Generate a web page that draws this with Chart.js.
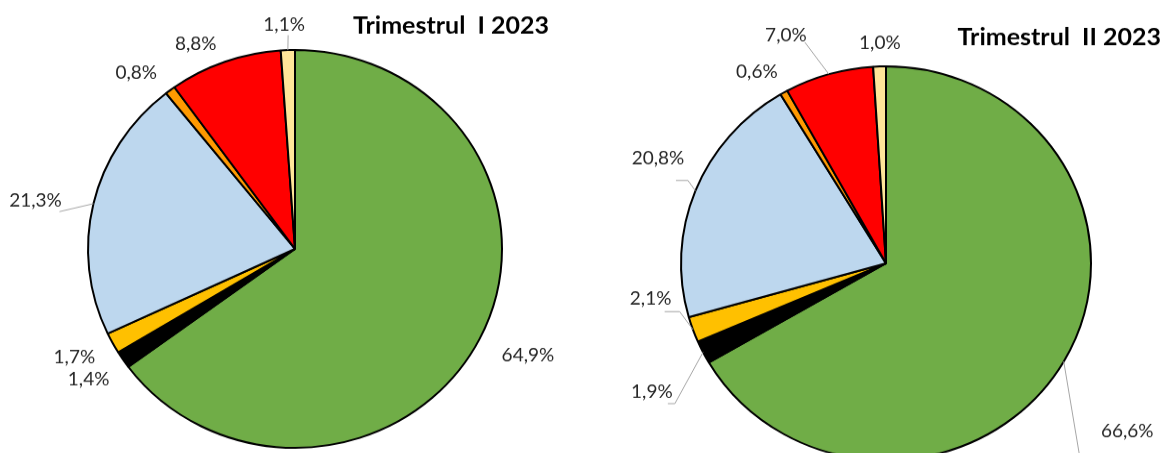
<!DOCTYPE html>
<html lang="ro">
<head>
<meta charset="utf-8">
<title>Trimestrul I / II 2023</title>
<script src="https://cdn.jsdelivr.net/npm/chart.js@4/dist/chart.umd.min.js"></script>
<style>
    html, body { margin: 0; padding: 0; background: #fff; }
    body { width: 1163px; height: 453px; overflow: hidden; position: relative; }
    /* the source pies are slightly flattened, so the canvases are squeezed vertically */
    .pie { position: absolute; top: 0; height: 500px; transform: scaleY(0.961); transform-origin: 0 0; }
    #pie-q1 { left: 0; width: 580px; }
    #pie-q2 { left: 580px; width: 583px; }
</style>
</head>
<body>
<div class="pie" id="pie-q1"><canvas id="chart-q1" width="580" height="500"></canvas></div>
<div class="pie" id="pie-q2"><canvas id="chart-q2" width="583" height="500"></canvas></div>

<script>
/* ============================================================
   Data (percent shares, clockwise from 12 o'clock)
   ============================================================ */
const titles = ['Trimestrul  I 2023', 'Trimestrul  II 2023'];
const sliceColors = ['#70AD47', '#000000', '#FFC000', '#BDD7EE', '#FF9900', '#FF0000', '#FFE699'];
const valuesQ1 = [64.9, 1.4, 1.7, 21.3, 0.8, 8.8, 1.1];
const valuesQ2 = [66.6, 1.9, 2.1, 20.8, 0.6, 7.0, 1.0];

const SQUASH = 0.961;

// label placement: distance past the rim, angular shift (deg), optional leader
const labelLayoutQ1 = [
    { gap: 49, shift: -2.3 },
    { gap: 37, shift: 1.6 },
    { gap: 39, shift: 2.0 },
    { gap: 57, shift: -2.6, leader: { ax: 24, ay: 11, hx: 0 } },
    { gap: 30, shift: -5.0 },
    { gap: 21, shift: -6.0 },
    { gap: 17, shift: -0.8, leader: { ax: 4, ay: 10, hx: 0 } }
];
const labelLayoutQ2 = [
    { gap: 89, shift: 5.0, leader: { ax: -48, ay: 22, hx: 0 } },
    { gap: 62, shift: -1.9, leader: { ax: 16, ay: 12, hx: 7 } },
    { gap: 33, shift: 11.1, leader: { ax: 14, ay: 13, hx: 15 } },
    { gap: 46, shift: 3.1, leader: { ax: 18, ay: 22, hx: 12 } },
    { gap: 26, shift: -4.1 },
    { gap: 44, shift: -7.5, leader: { ax: 19, ay: 7, hx: 0 } },
    { gap: 15, shift: 0.2 }
];

const LABEL_FONT = '19px Lato, "Open Sans", sans-serif';
const TITLE_FONT = 'bold 25px Lato, "Open Sans", sans-serif';

function fmtPct(v) {
    return v.toFixed(1).replace('.', ',') + '%';
}

// Draws the value labels, leader lines and the title
const pieLabels = {
    id: 'pieLabels',
    afterDatasetsDraw(chart, args, opts) {
        const ctx = chart.ctx;
        const meta = chart.getDatasetMeta(0);
        const values = chart.data.datasets[0].data;

        ctx.save();
        meta.data.forEach((arc, i) => {
            const lay = opts.layout[i];
            const { x: cx, y: cy, startAngle, endAngle, outerRadius } = arc.getProps(
                ['x', 'y', 'startAngle', 'endAngle', 'outerRadius'], true);
            const mid = (startAngle + endAngle) / 2;
            const a = mid + lay.shift * Math.PI / 180;
            const d = outerRadius + lay.gap;
            // label spacing is measured on screen, so undo the vertical squeeze
            const lx = cx + d * Math.cos(a);
            const ly = cy + d * Math.sin(a) / SQUASH;

            if (lay.leader) {
                const px = lx + lay.leader.ax;
                const py = ly + lay.leader.ay / SQUASH;
                const ex = px + Math.sign(cx - px) * lay.leader.hx;
                ctx.strokeStyle = '#A6A6A6';
                ctx.lineWidth = 1;
                ctx.beginPath();
                ctx.moveTo(px, py);
                ctx.lineTo(ex, py);
                ctx.lineTo(cx + outerRadius * Math.cos(mid), cy + outerRadius * Math.sin(mid));
                ctx.stroke();
            }

            ctx.fillStyle = '#262626';
            ctx.font = LABEL_FONT;
            ctx.textAlign = 'center';
            ctx.textBaseline = 'middle';
            ctx.fillText(fmtPct(values[i]), lx, ly);
        });

        ctx.fillStyle = '#000';
        ctx.font = TITLE_FONT;
        ctx.textAlign = 'right';
        ctx.textBaseline = 'alphabetic';
        ctx.fillText(opts.title, opts.titleX, opts.titleY / SQUASH);
        ctx.restore();
    }
};

function makePie(canvasId, values, layout, title, padding, titleX, titleY) {
    return new Chart(document.getElementById(canvasId), {
        type: 'pie',
        data: {
            labels: values.map(fmtPct),
            datasets: [{
                data: values,
                backgroundColor: sliceColors,
                borderColor: '#000',
                borderWidth: 2
            }]
        },
        options: {
            responsive: false,
            animation: false,
            layout: { padding },
            plugins: {
                legend: { display: false },
                tooltip: { enabled: false },
                pieLabels: { layout, title, titleX, titleY }
            }
        },
        plugins: [pieLabels]
    });
}

makePie('chart-q1', valuesQ1, labelLayoutQ1, titles[0],
    { left: 87, top: 51, right: 77, bottom: 33 }, 549, 34);
makePie('chart-q2', valuesQ2, labelLayoutQ2, titles[1],
    { left: 100, top: 68, right: 71, bottom: 20 }, 581, 45);
</script>
</body>
</html>
